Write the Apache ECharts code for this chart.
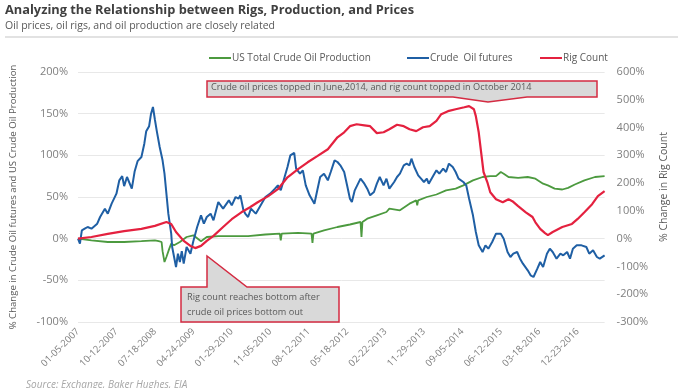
<!DOCTYPE html>
<html>
<head>
<meta charset="utf-8">
<script src="https://cdn.jsdelivr.net/npm/echarts@6/dist/echarts.min.js"></script>
<style>
  html, body { margin: 0; padding: 0; background: #ffffff; }
  #chart { width: 678px; height: 388px; }
</style>
</head>
<body>
<div id="chart"></div>
<script>
// ---- categories: weekly dates starting 01-05-2007 ----
const firstWeek = '2007-01-05';
const weekCount = 549;
function buildWeeks(start, n) {
  const out = [];
  const d0 = new Date(start + 'T00:00:00Z');
  for (let i = 0; i < n; i++) {
    const d = new Date(d0.getTime() + i * 7 * 86400000);
    const mm = String(d.getUTCMonth() + 1).padStart(2, '0');
    const dd = String(d.getUTCDate()).padStart(2, '0');
    out.push(mm + '-' + dd + '-' + d.getUTCFullYear());
  }
  return out;
}
const weeks = buildWeeks(firstWeek, weekCount);

// ---- series values: [week index, % change] ----
const productionSeries = [
  [0,0],[14,-2],[31,-4],[48,-4],[66,-3],[80,-2],[82,-4],[84,-3],[87,-4],[88,-15],[90,-28],[92,-22],
  [95,-12],[97,-6],[100,-8],[106,-4],[113,2],[120,4],[128,-3],[134,2],[146,3],[160,3],[177,3],
  [195,5],[210,6],[211,-2],[212,6],[229,7],[243,6],[244,-5],[245,6],[256,10],[270,14],[283,17],
  [294,20],[295,2],[296,20],[301,24],[311,28],[321,32],[324,36],[335,34],[345,42],[352,46],[353,40],
  [354,46],[363,50],[373,53],[383,58],[393,60],[401,64],[411,70],[421,74],[429,75],[435,75],[440,80],
  [443,78],[448,74],[458,73],[468,74],[476,72],[484,66],[489,64],[496,60],[504,59],[510,61],[517,65],
  [527,70],[538,74],[548,75]
];
const futuresSeries = [
  [0,0],[2,-6],[4,10],[7,12],[10,14],[14,12],[20,18],[23,26],[28,36],[31,30],[35,42],[40,54],[43,70],
  [46,75],[48,63],[51,74],[56,60],[59,81],[62,93],[66,98],[69,114],[71,129],[74,135],[76,150],[78,158],
  [80,143],[82,129],[85,110],[88,94],[90,78],[92,54],[94,30],[97,6],[98,-10],[102,-34],[104,-18],
  [106,-28],[108,-15],[110,-30],[113,-10],[117,-18],[120,-3],[124,14],[128,28],[131,18],[134,26],
  [136,28],[138,30],[141,22],[146,44],[151,36],[153,38],[157,46],[160,40],[162,40],[164,50],[167,48],
  [169,52],[172,35],[174,30],[177,26],[180,36],[185,30],[191,42],[195,50],[200,54],[205,60],[208,64],
  [211,58],[215,74],[218,86],[221,100],[225,103],[227,84],[231,78],[234,82],[237,64],[241,52],[244,46],
  [246,42],[249,58],[252,74],[256,78],[260,70],[263,80],[267,94],[270,92],[273,88],[277,80],[280,64],
  [283,48],[285,44],[288,58],[294,72],[298,66],[301,60],[304,52],[308,56],[311,66],[314,74],[318,64],
  [321,72],[324,60],[329,68],[332,74],[335,78],[339,88],[342,90],[345,88],[347,96],[350,86],[354,76],
  [357,72],[360,68],[363,72],[365,66],[370,76],[373,82],[376,78],[380,84],[383,80],[386,90],[390,86],
  [393,80],[396,72],[401,68],[404,64],[407,48],[411,28],[414,8],[417,-8],[421,-16],[424,-8],[427,-12],
  [431,-4],[435,6],[440,6],[443,0],[447,-16],[450,-22],[453,-18],[457,-16],[460,-24],[463,-30],
  [468,-38],[471,-44],[474,-46],[478,-36],[481,-28],[484,-34],[488,-18],[491,-12],[494,-16],[498,-24],
  [502,-18],[505,-20],[509,-16],[512,-24],[515,-12],[519,-8],[524,-8],[529,-10],[532,-18],[536,-14],
  [540,-22],[543,-24],[548,-20]
];
const rigSeries = [
  [0,0],[14,6],[31,17],[48,27],[66,35],[80,46],[92,60],[97,53],[102,24],[110,-8],[117,-26],[122,-34],
  [128,-26],[134,-8],[141,10],[151,42],[160,70],[170,95],[179,113],[187,131],[198,153],[208,178],
  [218,221],[229,250],[239,275],[249,297],[260,322],[270,365],[277,383],[283,405],[290,412],[298,408],
  [304,405],[311,380],[318,383],[324,394],[332,410],[339,405],[345,394],[352,387],[359,401],[366,405],
  [373,424],[378,448],[385,459],[393,466],[402,473],[407,477],[412,466],[414,441],[417,383],[420,297],
  [422,240],[426,203],[429,167],[435,142],[442,131],[448,142],[452,135],[458,117],[466,95],[473,78],
  [476,59],[481,35],[486,20],[489,13],[494,24],[504,42],[514,53],[520,71],[527,95],[535,124],
  [541,153],[548,171]
];

// ---- names / texts ----
const seriesNames = ['US Total Crude Oil Production', 'Crude  Oil futures', 'Rig Count'];
const seriesColors = ['#4c9a3f', '#1f5fa4', '#e4213f'];
const titleText = 'Analyzing the Relationship between Rigs, Production, and Prices';
const subtitleText = 'Oil prices, oil rigs, and oil production are closely related';
const leftAxisName = '% Change in Crude Oil futures and US Crude Oil Production';
const rightAxisName = '% Change in Rig Count';
const noteTop = 'Crude oil prices topped in June,2014, and rig count topped in October 2014';
const noteBottom = ['Rig count reaches bottom after', 'crude oil prices bottom out'];
const sourceText = 'Source: Exchange, Baker Hughes, EIA';
const leftTicks = { min: -100, max: 200, step: 50 };
const rightTicks = { min: -300, max: 600, step: 100 };

const FONT = '"Open Sans", "Noto Sans", sans-serif';
const chart = echarts.init(document.getElementById('chart'), null, { renderer: 'canvas' });

const legendPos = [204, 402, 535];
const option = {
  animation: false,
  backgroundColor: '#ffffff',
  textStyle: { fontFamily: FONT },
  grid: { left: 78, right: 68, top: 72, bottom: 66, containLabel: false },
  legend: seriesNames.map((n, i) => ({
    data: [n], left: legendPos[i], top: 48, icon: 'rect', itemWidth: 22, itemHeight: 2,
    itemGap: 2, textStyle: { color: '#595959', fontSize: 10, fontFamily: FONT, padding: [0, 0, 0, -4] }
  })),
  xAxis: {
    type: 'category', data: weeks, boundaryGap: false,
    axisLine: { show: false }, axisTick: { show: false },
    axisLabel: { interval: 39, rotate: 45, color: '#7f7f7f', fontSize: 9.5, margin: 8, fontFamily: FONT },
    splitLine: { show: false }
  },
  yAxis: [
    {
      type: 'value', min: leftTicks.min, max: leftTicks.max, interval: leftTicks.step,
      name: leftAxisName, nameLocation: 'middle', nameGap: 60,
      nameTextStyle: { color: '#595959', fontSize: 9.6, fontFamily: FONT, padding: [0, 0, 0, 0] },
      axisLine: { show: false }, axisTick: { show: false },
      axisLabel: { formatter: '{value}%', color: '#7f7f7f', fontSize: 11, margin: 10, fontFamily: FONT },
      splitLine: { lineStyle: { color: '#e8e8e8', width: 1 } }
    },
    {
      type: 'value', min: rightTicks.min, max: rightTicks.max, interval: rightTicks.step,
      name: rightAxisName, nameLocation: 'middle', nameGap: 49,
      nameTextStyle: { color: '#595959', fontSize: 10.5, fontFamily: FONT, padding: [0, 0, 0, 20] },
      axisLine: { show: false }, axisTick: { show: false },
      axisLabel: { formatter: '{value}%', color: '#7f7f7f', fontSize: 11, margin: 12, fontFamily: FONT },
      splitLine: { show: false }
    }
  ],
  series: [
    { name: seriesNames[0], type: 'line', yAxisIndex: 0, data: productionSeries, symbol: 'none',
      lineStyle: { color: seriesColors[0], width: 1.8 }, itemStyle: { color: seriesColors[0] } },
    { name: seriesNames[1], type: 'line', yAxisIndex: 0, data: futuresSeries, symbol: 'none',
      lineStyle: { color: seriesColors[1], width: 2 }, itemStyle: { color: seriesColors[1] } },
    { name: seriesNames[2], type: 'line', yAxisIndex: 1, data: rigSeries, symbol: 'none',
      lineStyle: { color: seriesColors[2], width: 2.2 }, itemStyle: { color: seriesColors[2] } }
  ],
  graphic: [
    { type: 'text', left: 5, top: 4, style: { text: titleText, font: 'bold 12.8px ' + FONT, fill: '#404040' } },
    { type: 'text', left: 5, top: 21, style: { text: subtitleText, font: '10.5px ' + FONT, fill: '#595959' } },
    { type: 'line', shape: { x1: 5, y1: 37, x2: 678, y2: 37 }, style: { stroke: '#d9d9d9', lineWidth: 1.5 } },
    { type: 'polygon', z: 100,
      shape: { points: [[207,81],[597,81],[597,97],[527,97],[488,102],[453,97],[207,97]] },
      style: { fill: '#d9d9d9', stroke: '#d42b42', lineWidth: 1.5 } },
    { type: 'text', z: 101, left: 211, top: 83, style: { text: noteTop, font: '9.2px ' + FONT, fill: '#595959' } },
    { type: 'polygon', z: 100,
      shape: { points: [[181,287],[207,287],[207,256],[247,287],[339,287],[339,322],[181,322]] },
      style: { fill: '#d9d9d9', stroke: '#d42b42', lineWidth: 1.5 } },
    { type: 'text', z: 101, left: 187, top: 290, style: { text: noteBottom.join('\n'), font: '9.2px ' + FONT, fill: '#595959', lineHeight: 15 } },
    { type: 'text', left: 26, top: 380, style: { text: sourceText, font: 'italic 10px ' + FONT, fill: '#a6a6a6' } }
  ]
};
chart.setOption(option);
</script>
</body>
</html>
